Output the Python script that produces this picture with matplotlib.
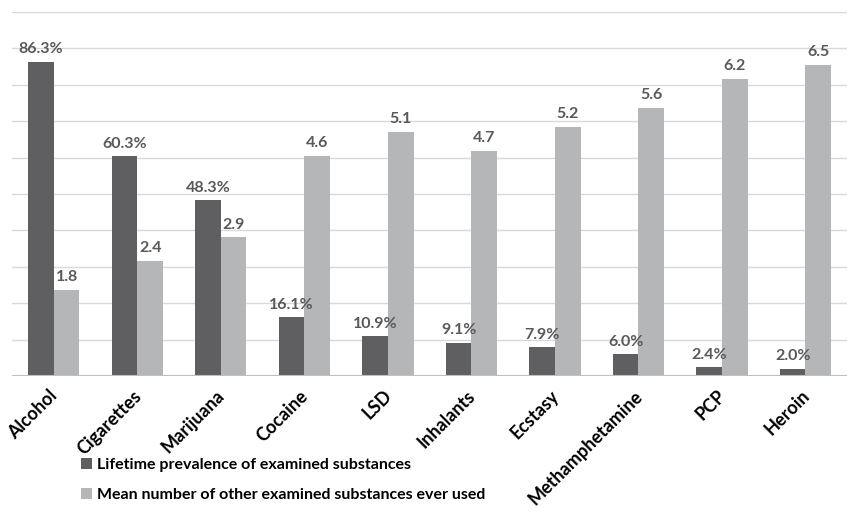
import numpy as np
import matplotlib.pyplot as plt
import matplotlib.transforms as mtransforms

plt.rcParams['font.family'] = ['Lato', 'DejaVu Sans']

substances = ['Alcohol', 'Cigarettes', 'Marijuana', 'Cocaine', 'LSD', 'Inhalants',
              'Ecstasy', 'Methamphetamine', 'PCP', 'Heroin']
prevalence = [86.3, 60.3, 48.3, 16.1, 10.9, 9.1, 7.9, 6.0, 2.4, 2.0]
mean_other = [1.8, 2.4, 2.9, 4.6, 5.1, 4.7, 5.2, 5.6, 6.2, 6.5]

dark = '#5f5f61'
light = '#b5b6b8'
lab_col = '#595959'

fig = plt.figure(figsize=(8.61, 5.24), dpi=100)
ax = fig.add_axes([0.014, 0.2824, 0.97, 0.695])
ax2 = ax.twinx()

x = np.arange(len(substances))
w = 0.307
b1 = ax.bar(x - w / 2, prevalence, w, color=dark, label='Lifetime prevalence of examined substances', zorder=3)
b2 = ax2.bar(x + w / 2, mean_other, w, color=light, label='Mean number of other examined substances ever used', zorder=3)

ax.set_ylim(0, 100)
ax2.set_ylim(0, 7.6)
ax.set_xlim(-0.5, len(substances) - 0.5)
ax.set_yticks(np.arange(0, 101, 10))
ax.grid(axis='y', color='#d9d9d9', linewidth=1, zorder=0)
ax.tick_params(axis='y', left=False, labelleft=False)
ax2.tick_params(axis='y', right=False, labelright=False)
ax.tick_params(axis='x', length=0, pad=8)
for a in (ax, ax2):
    for s in ['top', 'right', 'left', 'bottom']:
        a.spines[s].set_visible(False)
ax2.axhline(0, color='#bfbfbf', linewidth=1.5, zorder=4)

ax.set_xticks(x)
ax.set_xticklabels(substances, rotation=45, ha='right', rotation_mode='anchor',
                   fontsize=13, fontweight='bold', color='black')
# nudge the rotated labels a little to the left, like the original
shift = mtransforms.ScaledTranslation(-5 / 100, 0, fig.dpi_scale_trans)
for lbl in ax.get_xticklabels():
    lbl.set_transform(lbl.get_transform() + shift)

# all value labels go on the top axes so the light bars don't cover them
for r, v in zip(b1, prevalence):
    ax2.annotate(f'{v:.1f}%', (r.get_x() + r.get_width() / 2, v), xycoords=ax.transData,
                 xytext=(0, 4), textcoords='offset points', ha='center', va='bottom',
                 fontsize=11.5, fontweight='bold', color=lab_col, zorder=5)
for r, v in zip(b2, mean_other):
    ax2.annotate(f'{v:.1f}', (r.get_x() + r.get_width() / 2, v), xytext=(0, 4),
                 textcoords='offset points', ha='center', va='bottom',
                 fontsize=11.5, fontweight='bold', color=lab_col, zorder=5)

fig.legend(handles=[b1, b2], loc='lower left', bbox_to_anchor=(0.077, 0.015), ncol=1,
           frameon=False, handlelength=0.7, handleheight=0.7, handletextpad=0.3,
           labelspacing=0.95, prop={'weight': 'bold', 'size': 11.5})

fig.savefig('out.png', dpi=100)
